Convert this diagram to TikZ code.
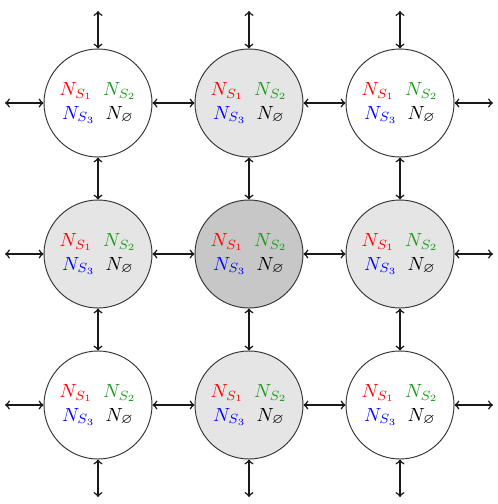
\documentclass[tikz,border=0pt]{standalone}
\usepackage{amssymb}
\definecolor{lgray}{gray}{0.9}
\definecolor{dgray}{gray}{0.78}
\definecolor{sgreen}{rgb}{0.1,0.6,0.1}
\begin{document}
\begin{tikzpicture}[x=0.525pt,y=-0.525pt,
  cell/.style={circle,draw=black!80,line width=0.5pt,minimum size=108*0.525pt,inner sep=0pt,align=center},
  link/.style={<->,thick,black!90}]
\useasboundingbox (0,0) rectangle (498,504);
\newcommand{\lbl}{$\color{red}N_{S_1}$\hspace{5.5pt}$\color{sgreen}N_{S_2}$\\[0.5pt]$\color{blue}N_{S_3}$\hspace{5.5pt}$N_{\varnothing}$}
\foreach \i/\x in {1/98,2/249,3/400}{
  \foreach \j/\y in {1/103,2/254,3/405}{
    \pgfmathtruncatemacro{\s}{\i+\j}
    \ifodd\s \def\fc{lgray}\else\def\fc{white}\fi
    \ifnum\i=2 \ifnum\j=2 \def\fc{dgray}\fi\fi
    \node[cell,fill=\fc] (c\i\j) at (\x,\y) {\lbl};
  }
}
% outer free ends
\foreach \i/\x in {1/98,2/249,3/400}{
  \coordinate (t\i) at (\x,11);
  \coordinate (b\i) at (\x,497);
}
\foreach \j/\y in {1/103,2/254,3/405}{
  \coordinate (l\j) at (5,\y);
  \coordinate (r\j) at (493,\y);
}
\foreach \i in {1,2,3}{
  \draw[link] (t\i) -- (c\i1.north);
  \draw[link] (c\i3.south) -- (b\i);
  \draw[link] (l\i) -- (c1\i.west);
  \draw[link] (c3\i.east) -- (r\i);
  \draw[link] (c\i1) -- (c\i2);
  \draw[link] (c\i2) -- (c\i3);
  \draw[link] (c1\i) -- (c2\i);
  \draw[link] (c2\i) -- (c3\i);
}
\end{tikzpicture}
\end{document}
